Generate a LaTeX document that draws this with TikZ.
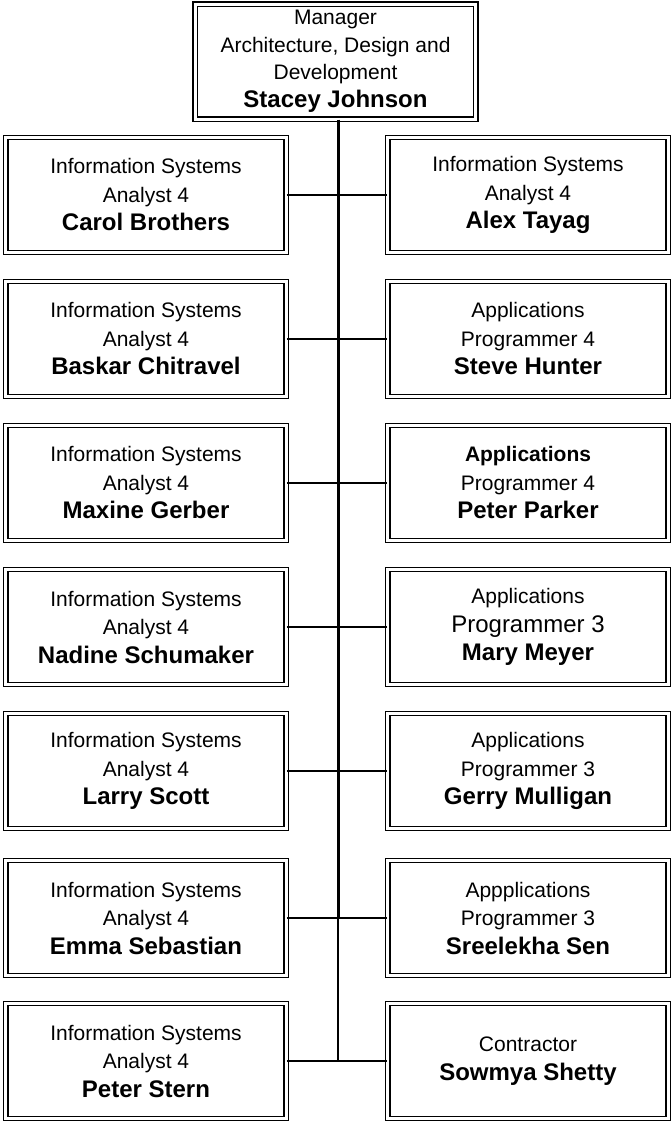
\documentclass[tikz,border=0pt]{standalone}
\usepackage{fontspec}
\setmainfont{Liberation Sans}
\newcommand{\pname}[1]{{\fontsize{24}{28.5}\selectfont\bfseries #1}}
\begin{document}
\begin{tikzpicture}[x=1pt,y=-1pt,line join=miter,
	box/.style={draw,double=white,double distance=3pt,line width=1.4pt,inner sep=0pt,
		minimum width=280.5pt,minimum height=115pt,align=center,
		font=\fontsize{21}{28.5}\selectfont},
	link/.style={line width=1.5pt}]
	\useasboundingbox (0,0) rectangle (671,1122);
	\coordinate (T) at (338,0);
	\node[box,font=\fontsize{21}{27.5}\selectfont] (M) at (335.5,61.5)
		{Manager\\Architecture, Design and\\Development\\\pname{Stacey Johnson}};
	\foreach \i/\y/\n in {1/195/Carol Brothers,2/339/Baskar Chitravel,3/483/Maxine Gerber,
		4/627/Nadine Schumaker,5/771/Larry Scott,6/918/Emma Sebastian,7/1061/Peter Stern}
	\node[box] (L\i) at (146,\y) {Information Systems\\Analyst 4\\\pname{\n}};
	\node[box] (R1) at (528,195) {Information Systems\\Analyst 4\\\pname{Alex Tayag}};
	\node[box] (R2) at (528,339) {Applications\\Programmer 4\\\pname{Steve Hunter}};
	\node[box] (R3) at (528,483) {\textbf{Applications}\\Programmer 4\\\pname{Peter Parker}};
	\node[box] (R4) at (528,627) {Applications\\{\fontsize{24}{28.5}\selectfont Programmer 3}\\\pname{Mary Meyer}};
	\node[box] (R5) at (528,771) {Applications\\Programmer 3\\\pname{Gerry Mulligan}};
	\node[box] (R6) at (528,918) {Appplications\\Programmer 3\\\pname{Sreelekha Sen}};
	\node[box] (R7) at (528,1061) {Contractor\\\pname{Sowmya Shetty}};
	% trunk
	\draw[line width=3pt] (M.south -| T) -- (L6.east -| T);
	\draw[link] (L6.east -| T) -- (L7.east -| T);
	\foreach \i in {1,...,7}
	\draw[link] (L\i.east) -- (R\i.west);
\end{tikzpicture}
\end{document}
